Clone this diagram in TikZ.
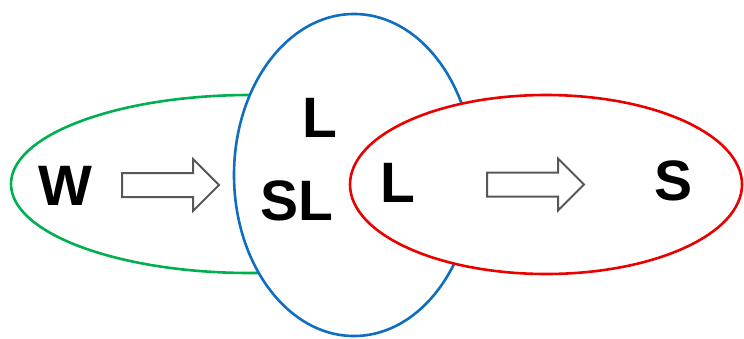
\documentclass[tikz,border=0pt]{standalone}
\usepackage{fontspec}
\setmainfont{Liberation Sans}
\definecolor{setgreen}{RGB}{0,176,80}
\definecolor{setblue}{RGB}{16,110,192}
\definecolor{setred}{RGB}{235,0,0}
\definecolor{arrowgray}{RGB}{85,88,90}

\begin{document}
\begin{tikzpicture}[x=1pt,y=-1pt,line width=2.6pt,
	letter/.style={font=\fontsize{57}{60}\selectfont\bfseries,inner sep=0pt},
	blockarrow/.style={draw=arrowgray,fill=white,line width=2pt,line join=miter}]
\useasboundingbox (0,0) rectangle (744,338);

%sets
\draw [setgreen] (250,184) ellipse [x radius=239, y radius=89];
\draw [setblue, fill=white] (354,175) ellipse [x radius=120, y radius=161];
\draw [setred, fill=white] (546,184.5) ellipse [x radius=196, y radius=89.5];

%letters
\node [letter] (w) at (65,186) {W};
\node [letter] (l1) at (320,118) {L};
\node [letter] (sl) at (297,201) {SL};
\node [letter] (l2) at (398,183) {L};
\node [letter] (s) at (674,181) {S};

%arrows
\foreach \ax/\ay in {122/185, 487/184.5}{
	\draw [blockarrow] (\ax,\ay-12)--++(71,0)--++(0,-14)--(\ax+97,\ay)--(\ax+71,\ay+26)--++(0,-14)--(\ax,\ay+12)--cycle;
}

\end{tikzpicture}
\end{document}
